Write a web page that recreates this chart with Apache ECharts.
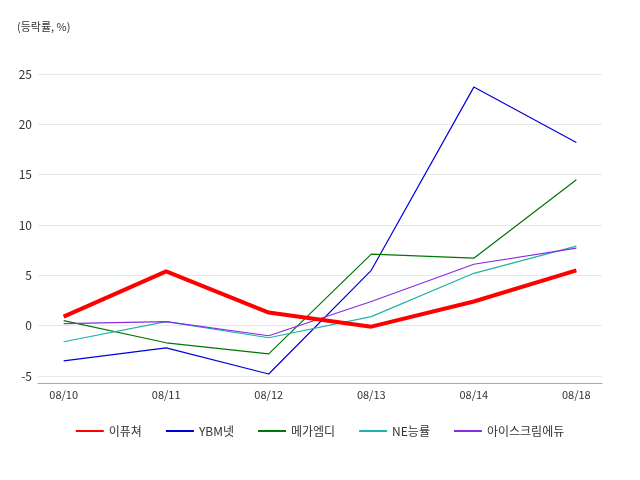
<!DOCTYPE html>
<html><head><meta charset="utf-8">
<script src="https://cdn.jsdelivr.net/npm/echarts@6/dist/echarts.min.js"></script>
<style>html,body{margin:0;padding:0}#c{width:640px;height:480px}</style>
</head><body><div id="c"></div>
<script>
const categories = ['08/10','08/11','08/12','08/13','08/14','08/18'];
const yTicks = [-5,0,5,10,15,20,25];
const sEfuture = [0.9, 5.4, 1.3, -0.1, 2.4, 5.5];
const sYBM = [-3.5, -2.2, -4.8, 5.5, 23.7, 18.2];
const sMega = [0.5, -1.7, -2.8, 7.1, 6.7, 14.5];
const sNE = [-1.6, 0.4, -1.2, 0.9, 5.2, 7.9];
const sIce = [0.2, 0.4, -1.0, 2.4, 6.1, 7.7];
const names = ['이퓨쳐','YBM넷','메가엠디','NE능률','아이스크림에듀'];
const colors = ['#ff0000','#0000dd','#007700','#20b2aa','#8a2be2'];
const all = [sEfuture, sYBM, sMega, sNE, sIce];
const font = '"Noto Sans CJK KR", "Noto Sans", sans-serif';
const chart = echarts.init(document.getElementById('c'));
chart.setOption({
  animation:false,
  textStyle:{fontFamily:font},
  title:{text:'(등락률, %)',left:12,top:16,textStyle:{fontSize:11,fontWeight:'normal',color:'#333',fontFamily:font}},
  grid:{left:38,right:38,top:74,bottom:104},
  legend:{bottom:38,itemWidth:28,itemGap:24,icon:'path://M0,0L28,0L28,2L0,2Z',textStyle:{fontSize:12,color:'#333',fontFamily:font},
    data:names.map((n,i)=>({name:n,itemStyle:{color:colors[i]},lineStyle:{color:colors[i],width:i===0?4:1.5}}))},
  xAxis:{type:'value',min:-0.25,max:5.25,
    axisLine:{onZero:false,lineStyle:{color:'#aaa'}},offset:7,
    axisTick:{show:false},splitLine:{show:false},
    axisLabel:{customValues:[0,1,2,3,4,5],formatter:v=>categories[Math.round(v)],color:'#333',fontSize:11,margin:6}},
  yAxis:{type:'value',min:-5,max:25,interval:5,
    axisLine:{show:false},axisTick:{show:false},
    splitLine:{lineStyle:{color:'#e8e8e8'}},
    axisLabel:{color:'#333',fontSize:12,margin:6}},
  series:all.map((d,i)=>({name:names[i],type:'line',symbol:'none',z:i===0?10:2,
    data:d.map((v,j)=>[j,v]),
    itemStyle:{color:colors[i]},lineStyle:{color:colors[i],width:i===0?4:1.2}}))
});
</script></body></html>
